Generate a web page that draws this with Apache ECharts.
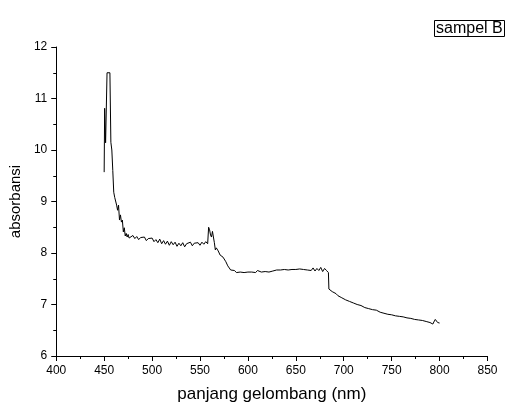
<!DOCTYPE html>
<html>
<head>
<meta charset="utf-8">
<script src="https://cdn.jsdelivr.net/npm/echarts@6/dist/echarts.min.js"></script>
<style>
  html, body { margin: 0; padding: 0; background: #fff; }
  #chart { width: 511px; height: 408px; }
</style>
</head>
<body>
<div id="chart"></div>
<script>
// panjang gelombang (nm)
const wavelength = [
  450, 450.5, 451.5, 453, 456, 457, 458, 459, 460, 461, 462, 463, 464, 465, 466, 467, 468, 469, 470, 471,
  472, 473, 474, 475, 476, 478, 480, 482, 484, 486, 488, 490, 492, 494, 496, 498, 500, 502, 504, 506,
  508, 510, 512, 514, 516, 518, 520, 522, 524, 526, 528, 530, 532, 534, 536, 538, 540, 542, 544, 546,
  548, 550, 552, 554, 556, 558, 559, 560, 561, 562, 563, 564, 565, 566, 567, 569, 571, 574, 577, 579,
  582, 584, 586, 588, 590, 592, 594, 596, 598, 600, 602, 604, 606, 608, 610, 612, 614, 616, 618, 620,
  622, 624, 626, 628, 630, 632, 634, 636, 638, 640, 642, 644, 646, 648, 650, 652, 654, 656, 658, 660,
  662, 664, 666, 668, 670, 672, 674, 676, 678, 680, 682, 683, 684, 684.5, 686, 688, 690, 692, 694, 696,
  698, 700, 702, 704, 706, 708, 710, 712, 714, 716, 718, 720, 722, 724, 726, 728, 730, 732, 734, 736,
  738, 740, 742, 744, 746, 748, 750, 752, 754, 756, 758, 760, 762, 764, 766, 768, 770, 772, 774, 776,
  778, 780, 782, 784, 786, 788, 790, 792, 793, 794, 795.5, 797, 798, 800
];
// absorbansi sampel B
const absorbansi = [
  9.57, 10.81, 10.14, 11.5, 11.5, 10.15, 10.0, 9.6, 9.18, 9.08, 9.1, 8.93, 8.83, 8.93, 8.64, 8.74, 8.6, 8.64, 8.41, 8.49,
  8.33, 8.38, 8.31, 8.36, 8.29, 8.30, 8.34, 8.28, 8.32, 8.26, 8.30, 8.27, 8.31, 8.24, 8.28, 8.25, 8.29, 8.22, 8.26, 8.20,
  8.27, 8.18, 8.24, 8.17, 8.23, 8.15, 8.22, 8.16, 8.21, 8.13, 8.19, 8.14, 8.20, 8.12, 8.18, 8.15, 8.21, 8.14, 8.19, 8.16,
  8.20, 8.15, 8.21, 8.17, 8.22, 8.18, 8.50, 8.45, 8.35, 8.31, 8.42, 8.39, 8.20, 8.06, 8.10, 8.04, 7.96, 7.92, 7.83, 7.75,
  7.67, 7.64, 7.66, 7.62, 7.64, 7.63, 7.66, 7.62, 7.65, 7.63, 7.66, 7.63, 7.65, 7.62, 7.66, 7.64, 7.63, 7.66, 7.64, 7.65,
  7.63, 7.66, 7.65, 7.68, 7.67, 7.69, 7.67, 7.70, 7.68, 7.69, 7.67, 7.70, 7.68, 7.71, 7.68, 7.70, 7.69, 7.71, 7.68, 7.70,
  7.67, 7.69, 7.66, 7.71, 7.65, 7.70, 7.66, 7.72, 7.64, 7.70, 7.66, 7.68, 7.62, 7.30, 7.27, 7.25, 7.22, 7.21, 7.17, 7.15,
  7.13, 7.12, 7.09, 7.10, 7.06, 7.05, 7.03, 7.04, 7.00, 6.99, 6.98, 6.97, 6.94, 6.95, 6.92, 6.91, 6.90, 6.88, 6.89, 6.86,
  6.85, 6.84, 6.83, 6.82, 6.81, 6.80, 6.80, 6.79, 6.78, 6.78, 6.77, 6.77, 6.76, 6.75, 6.74, 6.74, 6.73, 6.72, 6.71, 6.71,
  6.70, 6.70, 6.69, 6.68, 6.67, 6.66, 6.65, 6.63, 6.62, 6.66, 6.71, 6.68, 6.65, 6.64
];

const font = 'Liberation Sans, Arial, sans-serif'

const myChart = echarts.init(document.getElementById('chart'))

const axisCommon = {
  axisLine: { lineStyle: { color: '#000', width: 1 } },
  axisTick: { inside: false, length: 5, lineStyle: { color: '#000' } },
  minorTick: { show: true, splitNumber: 2, length: 3, lineStyle: { color: '#000' } },
  splitLine: { show: false },
  axisLabel: { color: '#000', fontSize: 12, fontFamily: font, margin: 9 },
  nameLocation: 'middle',
  nameTextStyle: { color: '#000', fontFamily: font }
}

const option = {
  animation: false,
  title: {
    text: 'sampel B',
    left: 434,
    top: 20,
    padding: [1, 2, 0, 2],
    borderColor: '#000',
    borderWidth: 1,
    textStyle: { color: '#000', fontSize: 16, fontWeight: 'normal', fontFamily: font }
  },
  grid: { left: 55, right: 23.5, top: 47, bottom: 52 },
  xAxis: {
    ...axisCommon,
    type: 'value',
    min: 400,
    max: 850,
    interval: 50,
    name: 'panjang gelombang (nm)',
    nameGap: 30,
    nameTextStyle: { ...axisCommon.nameTextStyle, fontSize: 17 }
  },
  yAxis: {
    ...axisCommon,
    type: 'value',
    min: 6,
    max: 12,
    interval: 1,
    name: 'absorbansi',
    nameGap: 30,
    nameTextStyle: { ...axisCommon.nameTextStyle, fontSize: 15 }
  },
  series: [{
    name: 'sampel B',
    type: 'line',
    showSymbol: false,
    data: wavelength.map((w, i) => [w, absorbansi[i]]),
    lineStyle: { color: '#000', width: 1 }
  }]
}

myChart.setOption(option)
</script>
</body>
</html>
